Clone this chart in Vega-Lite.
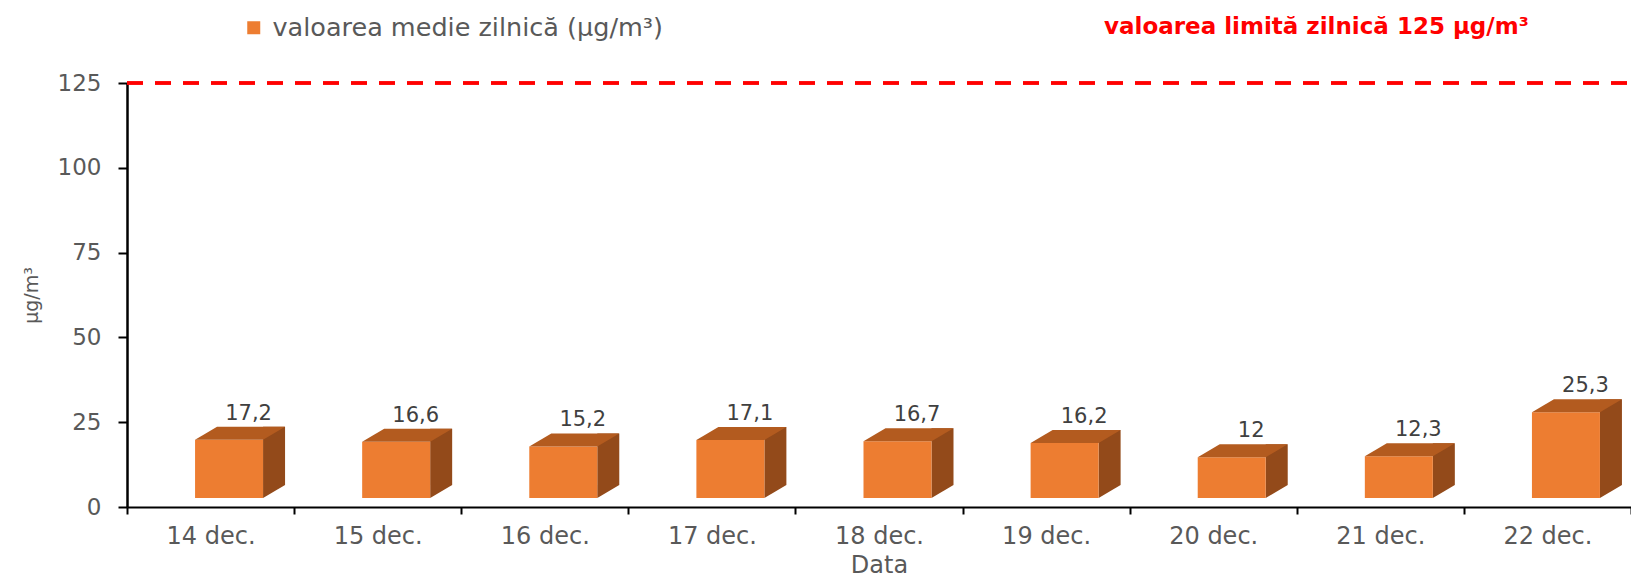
{
  "$schema": "https://vega.github.io/schema/vega-lite/v6.json",
  "width": 1504,
  "height": 424,
  "autosize": {"type": "none"},
  "padding": {"left": 127, "top": 83, "right": 0, "bottom": 73},
  "background": "white",
  "data": {
    "values": [
      {"data": "14 dec.", "valoare": 17.2},
      {"data": "15 dec.", "valoare": 16.6},
      {"data": "16 dec.", "valoare": 15.2},
      {"data": "17 dec.", "valoare": 17.1},
      {"data": "18 dec.", "valoare": 16.7},
      {"data": "19 dec.", "valoare": 16.2},
      {"data": "20 dec.", "valoare": 12},
      {"data": "21 dec.", "valoare": 12.3},
      {"data": "22 dec.", "valoare": 25.3}
    ]
  },
  "encoding": {
    "x": {
      "field": "data",
      "type": "nominal",
      "sort": null,
      "scale": {"paddingInner": 0, "paddingOuter": 0},
      "axis": {
        "title": "Data",
        "labelAngle": 0,
        "tickBand": "extent",
        "domainColor": "#000000",
        "domainWidth": 2,
        "tickColor": "#000000",
        "tickWidth": 2,
        "tickSize": 7,
        "labelPadding": 10,
        "titlePadding": 5,
        "labelFont": "DejaVu Sans",
        "labelFontSize": 24,
        "labelColor": "#595959",
        "titleFont": "DejaVu Sans",
        "titleFontSize": 24,
        "titleFontWeight": "normal",
        "titleColor": "#595959"
      }
    },
    "y": {
      "field": "valoare",
      "type": "quantitative",
      "scale": {"domain": [0, 125], "nice": false},
      "axis": {
        "title": "µg/m³",
        "values": [0, 25, 50, 75, 100, 125],
        "grid": false,
        "domainColor": "#000000",
        "domainWidth": 2.5,
        "tickColor": "#000000",
        "tickWidth": 2,
        "tickSize": 9,
        "labelPadding": 17,
        "titlePadding": 16,
        "labelFont": "DejaVu Sans",
        "labelFontSize": 23,
        "labelColor": "#595959",
        "titleFont": "DejaVu Sans",
        "titleFontSize": 19,
        "titleFontWeight": "normal",
        "titleColor": "#595959"
      }
    }
  },
  "layer": [
    {
      "mark": {"type": "bar", "color": "#934A1A", "width": 22, "xOffset": 63.5, "yOffset": -22, "y2Offset": -22},
      "encoding": {"y2": {"datum": 0}}
    },
    {
      "mark": {"type": "point", "shape": "M 52.5 -22 L 74.5 -22 L 52.5 -9 Z", "size": 4, "filled": true, "color": "#934A1A", "strokeWidth": 0, "opacity": 1},
      "encoding": {"y": {"datum": 0}}
    },
    {
      "mark": {"type": "bar", "width": 68, "xOffset": 18.5, "yOffset": -9, "y2Offset": -9},
      "encoding": {
        "y2": {"datum": 0},
        "fill": {
          "datum": "valoarea medie zilnică (µg/m³)",
          "scale": {"range": ["#ED7D31"]},
          "legend": {
            "orient": "none",
            "legendX": 114,
            "legendY": -68,
            "title": null,
            "symbolType": "square",
            "symbolSize": 169,
            "symbolStrokeWidth": 0,
            "labelFont": "DejaVu Sans",
            "labelFontSize": 25.5,
            "labelColor": "#595959",
            "labelLimit": 600,
            "labelOffset": 6
          }
        }
      }
    },
    {
      "mark": {"type": "point", "shape": "M -15.5 -9 L 52.5 -9 L 74.5 -22 L 6.5 -22 Z", "size": 4, "filled": true, "color": "#B35B1F", "strokeWidth": 0, "opacity": 1}
    },
    {
      "mark": {"type": "text", "dx": 38, "dy": -29, "baseline": "alphabetic", "align": "center", "font": "DejaVu Sans", "fontSize": 21, "color": "#404040"},
      "encoding": {"text": {"field": "valoare", "type": "quantitative", "format": ".1~f"}}
    },
    {
      "mark": {"type": "rule", "strokeWidth": 2.5, "strokeDash": [16, 12]},
      "encoding": {
        "y": {"datum": 125},
        "x": {"value": 0},
        "x2": {"value": 1504},
        "stroke": {
          "datum": "valoarea limită zilnică 125 µg/m³",
          "scale": {"range": ["#FF0000"]},
          "legend": {
            "orient": "none",
            "legendX": 954,
            "legendY": -68,
            "title": null,
            "symbolOpacity": 0,
            "symbolSize": 0,
            "symbolStrokeWidth": 0,
            "labelOffset": 0,
            "labelFont": "DejaVu Sans",
            "labelFontSize": 23,
            "labelFontWeight": "bold",
            "labelColor": "#FF0000",
            "labelLimit": 600
          }
        }
      }
    }
  ],
  "config": {
    "view": {"stroke": null},
    "locale": {"number": {"decimal": ",", "thousands": ".", "grouping": [3], "currency": ["", " lei"]}}
  }
}
